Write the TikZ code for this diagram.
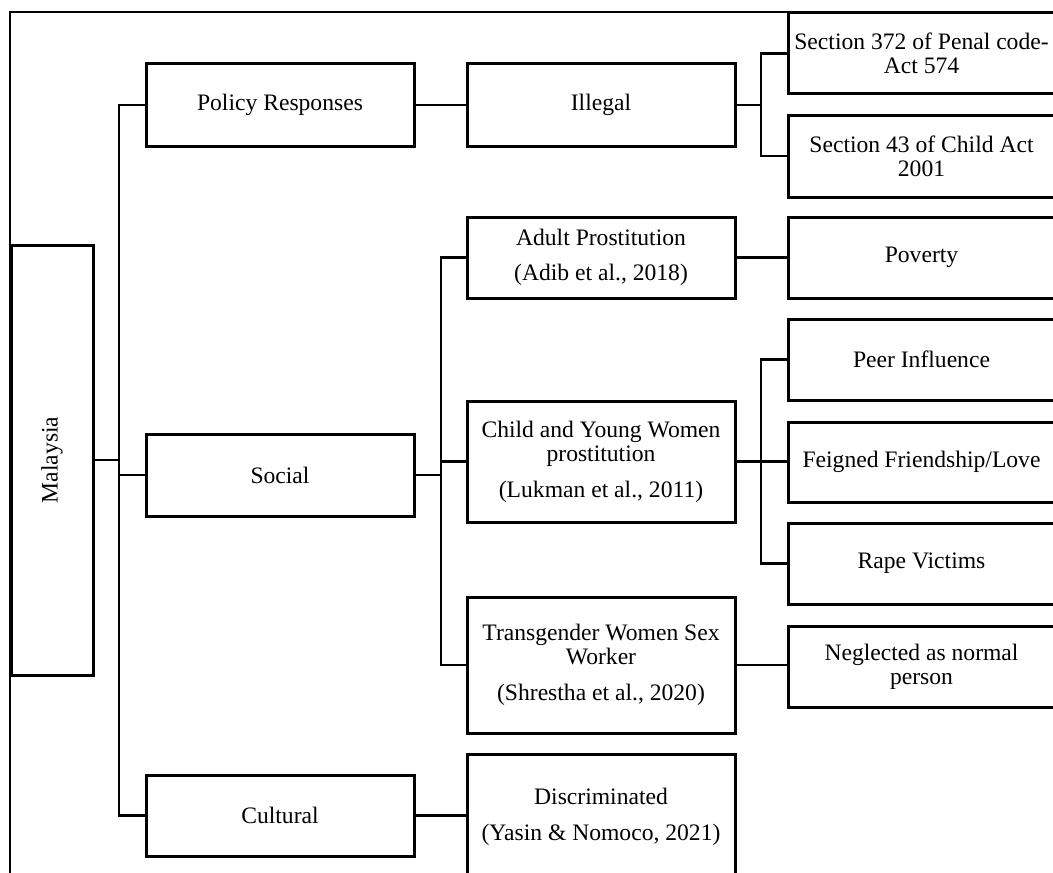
\documentclass[tikz,border=0pt]{standalone}
\usepackage{fontspec}
\setmainfont{Liberation Serif}
\begin{document}
\begin{tikzpicture}[x=0.5pt,y=-0.5pt,
  box/.style={draw, line width=1.5pt, inner sep=0pt, outer sep=0pt, align=center, minimum width=134pt, minimum height=41pt, font=\fontsize{11.8}{12}\selectfont},
  rbox/.style={box, minimum width=133.5pt},
  conn/.style={line width=1.4pt}]
\useasboundingbox (0,0) rectangle (1053,872);
\clip (0,0) rectangle (1053,872);
% outer frame
\draw[line width=1pt] (10,900) |- (1100,12);
% nodes
\node[box, minimum width=41pt, minimum height=215pt] (mal) at (52,460) {};
\node[rotate=90, font=\fontsize{11.8}{12}\selectfont] (maltext) at (mal.center) {Malaysia};
\node[box] (pol) at (280,105) {Policy Responses};
\node[box] (soc) at (280,475) {Social};
\node[box, minimum height=40.5pt] (cul) at (280,815.5) {Cultural};
\node[box] (ill) at (601,105) {Illegal};
\node[rbox, minimum height=40.5pt] (s372) at (921.5,53.5) {Section 372 of Penal code-\\Act 574};
\node[rbox] (s43) at (921.5,156) {Section 43 of Child Act\\2001};
\node[box, minimum height=40.5pt] (adult) at (601,257.5) {Adult Prostitution\\[5.5pt](Adib et al., 2018)};
\node[rbox, minimum height=40.5pt] (pov) at (921.5,257.5) {Poverty};
\node[box, minimum height=60.5pt] (child) at (601,461.5) {Child and Young Women\\prostitution\\[6pt](Lukman et al., 2011)};
\node[rbox, minimum height=40.5pt] (peer) at (921.5,359.5) {Peer Influence};
\node[rbox, minimum height=40pt] (feig) at (921.5,462) {Feigned Friendship/Love};
\node[rbox, minimum height=40.5pt] (rape) at (921.5,563.5) {Rape Victims};
\node[box, minimum height=68pt] (trans) at (601,665) {Transgender Women Sex\\Worker\\[6pt](Shrestha et al., 2020)};
\node[rbox, minimum height=40.5pt] (negl) at (921.5,666.5) {Neglected as normal\\person};
\node[box, minimum height=63pt] (disc) at (601,817) {Discriminated\\[6pt](Yasin \& Nomoco, 2021)};
% connectors
\draw[conn] (mal.east) -- ++(26,0);
\draw[conn] (pol.west) -- ++(-27,0) |- (cul.west);
\draw[conn] (soc.west) -- ++(-27,0);
\draw[conn] (pol.east) -- (ill.west);
\draw[conn] (ill.east) -- ++(26,0);
\draw[conn] (s372.west) -- ++(-27,0) |- (s43.west);
\draw[conn] (soc.east) -- ++(27,0);
\draw[conn] (adult.west) -- ++(-26,0) |- (trans.west);
\draw[conn] (child.west) -- ++(-26,0);
\draw[conn] (adult.east) -- (pov.west);
\draw[conn] (child.east) -- (child.east -| feig.west);
\draw[conn] (peer.west) -- ++(-27,0) |- (rape.west);
\draw[conn] (trans.east) -- (trans.east -| negl.west);
\draw[conn] (cul.east) -- (cul.east -| disc.west);
\end{tikzpicture}
\end{document}
